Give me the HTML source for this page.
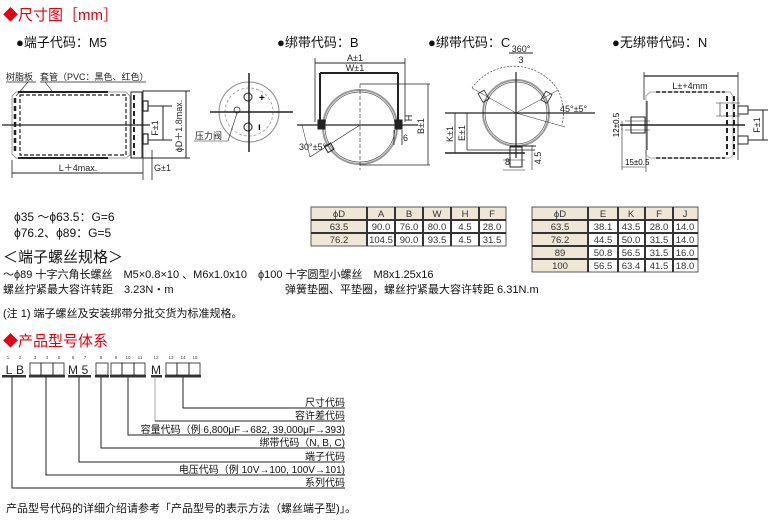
<!DOCTYPE html>
<html><head><meta charset="utf-8"><style>
html,body{margin:0;padding:0;background:#fff;}
svg{display:block;font-family:"Liberation Sans","Noto Sans CJK SC",sans-serif;}
.t{font-size:11px;fill:#111;}
.s{font-size:9px;fill:#222;}
.r{fill:#e60012;font-size:15px;}
</style></head><body>
<svg width="775" height="520" viewBox="0 0 775 520" xmlns="http://www.w3.org/2000/svg">
<text x="3" y="20" class="r">◆尺寸图［mm］</text>
<text x="16" y="47" style="font-size:13px" fill="#111">●端子代码：M5</text>
<text x="277" y="47" style="font-size:13px" fill="#111">●绑带代码：B</text>
<text x="428" y="47" style="font-size:13px" fill="#111">●绑带代码：C</text>
<text x="612" y="47" style="font-size:13px" fill="#111">●无绑带代码：N</text>

<g stroke="#222" fill="none">
<text x="6" y="80" class="s" stroke="none">树脂板</text>
<text x="40" y="80" class="s" stroke="none">套管（PVC：黑色、红色）</text>
<line x1="6" y1="82" x2="36" y2="82" stroke-width=".8"/>
<line x1="40" y1="82" x2="146" y2="82" stroke-width=".8"/>
<line x1="28" y1="82" x2="16" y2="96" stroke-width=".6"/>
<line x1="45" y1="82" x2="52" y2="91" stroke-width=".6"/>
<path d="M16 92 H126 L130 96 V155 L126 158 H16 L12 154 V96 Z" stroke="#999" stroke-width="1"/>
<line x1="18" y1="92" x2="108" y2="92" stroke-width="2"/>
<line x1="18" y1="158" x2="108" y2="158" stroke-width="2"/>
<path d="M20 95 H126 V155 H20 Z" stroke-dasharray="4,2" stroke-width="1.2"/>
<line x1="15" y1="98" x2="15" y2="152" stroke-dasharray="5,3" stroke-width="2.5"/>
<rect x="131" y="92" width="11" height="66" stroke-width="1"/>
<line x1="134" y1="95" x2="134" y2="155" stroke-dasharray="5,3" stroke-width="2"/>
<line x1="143" y1="90" x2="143" y2="180" stroke-width=".8"/>
<rect x="143" y="101" width="5" height="10" stroke-width="1.2"/>
<rect x="143" y="134" width="5" height="10" stroke-width="1.2"/>
<line x1="2" y1="125" x2="150" y2="125" stroke-width="1.2"/>
<line x1="143" y1="91" x2="190" y2="91" stroke-width="1"/>
<line x1="143" y1="158" x2="190" y2="158" stroke-width="1"/>
<line x1="186" y1="91" x2="186" y2="158" stroke-width="1"/>
<line x1="148" y1="106" x2="172" y2="106" stroke-width="1"/>
<line x1="148" y1="140" x2="172" y2="140" stroke-width="1"/>
<line x1="163" y1="106" x2="163" y2="140" stroke-width="1"/>
<line x1="12" y1="173" x2="143" y2="173" stroke-width="1"/>
<line x1="12" y1="160" x2="12" y2="178" stroke-width=".8"/>
<line x1="152" y1="150" x2="152" y2="180" stroke-width=".8"/>
</g>
<text class="s" transform="translate(158,128) rotate(-90)" text-anchor="middle">F±1</text>
<text class="s" transform="translate(182,126) rotate(-90)" text-anchor="middle">ϕD＋1.8max.</text>
<text x="78" y="171" class="s" text-anchor="middle">L＋4max.</text>
<text x="154" y="171" class="s">G±1</text>

<g stroke="#222" fill="none">
<circle cx="249" cy="112" r="30" stroke="#888" stroke-width="1"/>
<circle cx="249" cy="112" r="24" stroke="#aaa" stroke-dasharray="3,2" stroke-width="1"/>
<line x1="249" y1="73" x2="249" y2="152" stroke-width="1.5"/>
<line x1="210" y1="112" x2="293" y2="112" stroke-width="1.5"/>
<circle cx="248" cy="97" r="4" stroke-width="1"/>
<circle cx="248" cy="127" r="4" stroke-width="1"/>
<circle cx="237" cy="110" r="3" stroke-width=".8"/>
<line x1="237" y1="113" x2="228" y2="141" stroke-width=".6"/>
<line x1="194" y1="141" x2="228" y2="141" stroke-width=".6"/>
</g>
<text x="259" y="101" style="font-size:10px;font-weight:bold">+</text>
<text x="258" y="130" style="font-size:10px;font-weight:bold">ı</text>
<text x="195" y="139" class="s">压力阀</text>

<g stroke="#222" fill="none">
<circle cx="360" cy="127" r="37" stroke="#999" stroke-width="2"/>
<circle cx="360" cy="127" r="35" stroke="#555" stroke-width=".7"/>
<line x1="315" y1="63" x2="405" y2="63" stroke-width="1"/>
<line x1="315" y1="58" x2="315" y2="122" stroke-width=".8"/>
<line x1="405" y1="58" x2="405" y2="122" stroke-width=".8"/>
<line x1="320" y1="73" x2="398" y2="73" stroke-width="2"/>
<line x1="320" y1="73" x2="320" y2="125" stroke-width="2"/>
<line x1="398" y1="73" x2="398" y2="125" stroke-width="2"/>
<line x1="297" y1="125" x2="418" y2="125" stroke-width="1.2"/>
<line x1="360" y1="84" x2="430" y2="84" stroke-width=".8"/>
<line x1="360" y1="165" x2="430" y2="165" stroke-width=".8"/>
<line x1="428" y1="84" x2="428" y2="165" stroke-width=".8"/>
<line x1="360" y1="84" x2="360" y2="170" stroke-dasharray="4,2" stroke-width=".6"/>
<rect x="318" y="120" width="7" height="9" fill="#222"/>
<rect x="395" y="120" width="7" height="9" fill="#222"/>
<line x1="394" y1="130" x2="394" y2="145" stroke-width=".8"/>
<line x1="402" y1="130" x2="402" y2="145" stroke-width=".8"/>
<line x1="360" y1="125" x2="310" y2="157" stroke-width=".6"/>
<line x1="302" y1="125" x2="310" y2="157" stroke-width=".5"/>
<rect x="326" y="144" width="7" height="7" stroke-width="1" transform="rotate(-30 330 148)"/>
</g>
<text x="299" y="150" class="s">30°±5°</text>
<text x="355" y="61" class="s" text-anchor="middle">A±1</text>
<text x="355" y="71" class="s" text-anchor="middle">W±1</text>
<text x="403" y="141" class="s">6</text>
<text class="s" transform="translate(424,126) rotate(-90)" text-anchor="middle">B±1</text>
<text class="s" transform="translate(412,118) rotate(-90)" text-anchor="middle">H</text>

<g stroke="#222" fill="none">
<circle cx="516" cy="113" r="33" stroke="#999" stroke-width="2"/>
<circle cx="516" cy="113" r="31" stroke="#555" stroke-width=".7"/>
<line x1="516" y1="72" x2="516" y2="158" stroke-width="1.2"/>
<line x1="445" y1="113" x2="595" y2="113" stroke-width="1.2"/>
<path d="M472 88 A52 52 0 0 1 558 90" stroke-width=".6" stroke-dasharray="2,1.5"/>
<path d="M558 90 A52 52 0 0 1 562 125" stroke-width=".6" stroke-dasharray="2,1.5"/>
<line x1="516" y1="113" x2="472" y2="88" stroke-width=".5"/>
<line x1="516" y1="113" x2="558" y2="90" stroke-width=".5"/>
<line x1="516" y1="113" x2="565" y2="127" stroke-width=".5"/>
<rect x="480" y="91" width="7" height="10" transform="rotate(-30 484 96)" stroke-width=".8"/>
<rect x="543" y="92" width="7" height="10" transform="rotate(30 546 97)" stroke-width=".8"/>
<line x1="445" y1="153" x2="525" y2="153" stroke-width="1.5"/>
<line x1="455" y1="113" x2="455" y2="153" stroke-width=".8"/>
<line x1="467" y1="113" x2="467" y2="150" stroke-width=".8"/>
<line x1="467" y1="150" x2="535" y2="150" stroke-width=".8"/>
<rect x="510" y="147" width="12" height="20" stroke-width="1"/>
<line x1="503" y1="160" x2="525" y2="160" stroke-width=".6"/>
<line x1="503" y1="170" x2="525" y2="170" stroke-width=".6"/>
<line x1="510" y1="146" x2="536" y2="146" stroke-width="1"/>
<line x1="532" y1="145" x2="532" y2="170" stroke-width=".6"/>
<line x1="509" y1="53" x2="533" y2="53" stroke-width="1"/>
</g>
<text x="521" y="52" class="s" text-anchor="middle">360°</text>
<text x="521" y="63" class="s" text-anchor="middle">3</text>
<text x="560" y="112" class="s">45°±5°</text>
<text class="s" transform="translate(453,134) rotate(-90)" text-anchor="middle">K±1</text>
<text class="s" transform="translate(465,133) rotate(-90)" text-anchor="middle">E±1</text>
<text x="505" y="165" class="s">8</text>
<text class="s" transform="translate(541,158) rotate(-90)" text-anchor="middle">4.5</text>

<g stroke="#222" fill="none">
<line x1="644" y1="76" x2="738" y2="76" stroke-width="1.2"/>
<line x1="644" y1="72" x2="644" y2="100" stroke-width=".8"/>
<line x1="738" y1="72" x2="738" y2="160" stroke-width=".8"/>
<path d="M650 92 H730 L733 96 V155 L730 158 H650 L646 155 V96 Z" stroke="#aaa" stroke-width="1"/>
<line x1="656" y1="92" x2="725" y2="92" stroke-width="1.5" stroke-dasharray="4,2"/>
<line x1="656" y1="158" x2="725" y2="158" stroke-width="1.5" stroke-dasharray="4,2"/>
<line x1="647" y1="101" x2="647" y2="150" stroke-width="1"/>
<line x1="727" y1="96" x2="727" y2="155" stroke-width="2" stroke-dasharray="5,3"/>
<line x1="734" y1="96" x2="734" y2="155" stroke-width="2" stroke-dasharray="5,3"/>
<line x1="620" y1="125" x2="745" y2="125" stroke-width="1.5"/>
<rect x="631" y="117" width="14" height="16" stroke-width="1"/>
<line x1="625" y1="121" x2="650" y2="121" stroke-width=".6"/>
<line x1="625" y1="130" x2="650" y2="130" stroke-width=".6"/>
<line x1="622" y1="121" x2="622" y2="130" stroke-width=".6"/>
<line x1="622" y1="128" x2="622" y2="170" stroke-width=".6"/>
<line x1="622" y1="167" x2="646" y2="167" stroke-width=".6"/>
<line x1="646" y1="150" x2="646" y2="172" stroke-width=".6"/>
<rect x="738" y="106" width="10" height="8" stroke-width="1"/>
<rect x="738" y="136" width="10" height="8" stroke-width="1"/>
<line x1="716" y1="103" x2="740" y2="103" stroke-width=".6"/>
<line x1="716" y1="116" x2="740" y2="116" stroke-width=".6"/>
<line x1="720" y1="103" x2="720" y2="116" stroke-width=".6"/>
<line x1="748" y1="110" x2="768" y2="110" stroke-width="1"/>
<line x1="748" y1="140" x2="768" y2="140" stroke-width="1"/>
<line x1="763" y1="110" x2="763" y2="140" stroke-width="1"/>
</g>
<text x="690" y="89" class="s" text-anchor="middle">L±+4mm</text>
<text x="625" y="165" style="font-size:8px">15±0.5</text>
<text style="font-size:8px" transform="translate(619,125) rotate(-90)" text-anchor="middle">12±0.5</text>
<text class="s" transform="translate(760,125) rotate(-90)" text-anchor="middle">F±1</text>

<text x="14" y="221" style="font-size:12px" fill="#111">ϕ35 ～ϕ63.5：G=6</text>
<text x="14" y="237" style="font-size:12px" fill="#111">ϕ76.2、ϕ89：G=5</text>
<text x="3" y="262" style="font-size:15px" fill="#111">＜端子螺丝规格＞</text>
<text x="3" y="278" class="t">～ϕ89 十字六角长螺丝　M5×0.8×10 、M6x1.0x10　ϕ100 十字圆型小螺丝　M8x1.25x16</text>
<text x="3" y="293" class="t">螺丝拧紧最大容许转距　3.23N・m</text>
<text x="285" y="293" class="t">弹簧垫圈、平垫圈，螺丝拧紧最大容许转距  6.31N.m</text>
<text x="3" y="317" class="t">(注 1) 端子螺丝及安装绑带分批交货为标准规格。</text>

<g font-size="9.5" text-anchor="middle" fill="#333">
<rect x="311" y="207" width="195" height="13" fill="#efe6d6"/>
<rect x="311" y="220" width="56" height="26" fill="#efe6d6"/>
<g stroke="#333" fill="none">
<rect x="311" y="207" width="195" height="39" stroke-width=".8"/>
<line x1="311" y1="220" x2="506" y2="220" stroke-width="2"/>
<line x1="311" y1="233" x2="506" y2="233" stroke-width="2"/>
<line x1="367" y1="207" x2="367" y2="246" stroke-width="2"/>
<line x1="395" y1="207" x2="395" y2="246" stroke-width="2"/>
<line x1="423" y1="207" x2="423" y2="246" stroke-width="2"/>
<line x1="451" y1="207" x2="451" y2="246" stroke-width="2"/>
<line x1="479" y1="207" x2="479" y2="246" stroke-width="2"/>
</g>
<text x="339" y="217">ϕD</text><text x="381" y="217">A</text><text x="409" y="217">B</text><text x="437" y="217">W</text><text x="465" y="217">H</text><text x="492" y="217">F</text>
<text x="339" y="230">63.5</text><text x="381" y="230">90.0</text><text x="409" y="230">76.0</text><text x="437" y="230">80.0</text><text x="465" y="230">4.5</text><text x="492" y="230">28.0</text>
<text x="339" y="243">76.2</text><text x="381" y="243">104.5</text><text x="409" y="243">90.0</text><text x="437" y="243">93.5</text><text x="465" y="243">4.5</text><text x="492" y="243">31.5</text>

<rect x="532" y="207" width="166" height="13" fill="#efe6d6"/>
<rect x="532" y="220" width="56" height="52" fill="#efe6d6"/>
<g stroke="#333" fill="none">
<rect x="532" y="207" width="166" height="65" stroke-width=".8"/>
<line x1="532" y1="220" x2="698" y2="220" stroke-width="2"/>
<line x1="532" y1="233" x2="698" y2="233" stroke-width="2"/>
<line x1="532" y1="246" x2="698" y2="246" stroke-width="2"/>
<line x1="532" y1="259" x2="698" y2="259" stroke-width="2"/>
<line x1="588" y1="207" x2="588" y2="272" stroke-width="2"/>
<line x1="618" y1="207" x2="618" y2="272" stroke-width="2"/>
<line x1="645" y1="207" x2="645" y2="272" stroke-width="2"/>
<line x1="673" y1="207" x2="673" y2="272" stroke-width="2"/>
</g>
<text x="560" y="217">ϕD</text><text x="603" y="217">E</text><text x="631" y="217">K</text><text x="659" y="217">F</text><text x="685" y="217">J</text>
<text x="560" y="230">63.5</text><text x="603" y="230">38.1</text><text x="631" y="230">43.5</text><text x="659" y="230">28.0</text><text x="685" y="230">14.0</text>
<text x="560" y="243">76.2</text><text x="603" y="243">44.5</text><text x="631" y="243">50.0</text><text x="659" y="243">31.5</text><text x="685" y="243">14.0</text>
<text x="560" y="256">89</text><text x="603" y="256">50.8</text><text x="631" y="256">56.5</text><text x="659" y="256">31.5</text><text x="685" y="256">16.0</text>
<text x="560" y="269">100</text><text x="603" y="269">56.5</text><text x="631" y="269">63.4</text><text x="659" y="269">41.5</text><text x="685" y="269">18.0</text>
</g>

<text x="3" y="346" class="r">◆产品型号体系</text>
<g font-size="4.5" fill="#444" text-anchor="middle">
<text x="8" y="359">1</text><text x="20" y="359">2</text><text x="35" y="359">3</text><text x="47" y="359">4</text><text x="59" y="359">5</text>
<text x="73" y="359">6</text><text x="85" y="359">7</text><text x="101" y="359">8</text><text x="116" y="359">9</text><text x="128" y="359">10</text><text x="140" y="359">11</text>
<text x="156" y="359">12</text><text x="171" y="359">13</text><text x="183" y="359">14</text><text x="195" y="359">15</text>
</g>
<g font-size="12" fill="#222" text-anchor="middle">
<text x="9" y="374">L</text><text x="20" y="374">B</text><text x="73" y="374">M</text><text x="85" y="374">5</text><text x="156" y="374">M</text>
</g>
<g stroke="#222" fill="none" stroke-width=".8">
<rect x="30" y="363" width="11" height="12"/><rect x="41" y="363" width="12" height="12"/><rect x="53" y="363" width="11" height="12"/>
<rect x="96" y="363" width="12" height="12"/>
<rect x="111" y="363" width="11" height="12"/><rect x="122" y="363" width="12" height="12"/><rect x="134" y="363" width="11" height="12"/>
<rect x="166" y="363" width="11" height="12"/><rect x="177" y="363" width="12" height="12"/><rect x="189" y="363" width="11" height="12"/>
</g>
<g fill="#333">
<rect x="2" y="375" width="24" height="2.5"/><rect x="29" y="375" width="36" height="2.5"/><rect x="68" y="375" width="23" height="2.5"/>
<rect x="95" y="375" width="14" height="2.5"/><rect x="110" y="375" width="36" height="2.5"/><rect x="151" y="375" width="11" height="2.5"/><rect x="165" y="375" width="36" height="2.5"/>
</g>
<g stroke="#222" stroke-width="1" fill="none">
<polyline points="183,377 183,408 345,408"/>
<polyline points="155,377 155,421 345,421" stroke="#aaa"/>
<line x1="155" y1="421" x2="345" y2="421"/>
<polyline points="128,377 128,435 345,435"/>
<polyline points="101,377 101,448 345,448"/>
<polyline points="79,377 79,462 345,462"/>
<polyline points="46,377 46,475 345,475"/>
<polyline points="12,377 12,488 345,488"/>
</g>
<g font-size="10" fill="#111" text-anchor="end">
<text x="345" y="406">尺寸代码</text>
<text x="345" y="419">容许差代码</text>
<text x="345" y="433">容量代码（例 6,800μF→682, 39,000μF→393)</text>
<text x="345" y="446">绑带代码（N, B, C)</text>
<text x="345" y="460">端子代码</text>
<text x="345" y="473">电压代码（例 10V→100, 100V→101)</text>
<text x="345" y="486">系列代码</text>
</g>
<text x="6" y="512" class="t">产品型号代码的详细介绍请参考「产品型号的表示方法（螺丝端子型)」。</text>
</svg>
</body></html>
